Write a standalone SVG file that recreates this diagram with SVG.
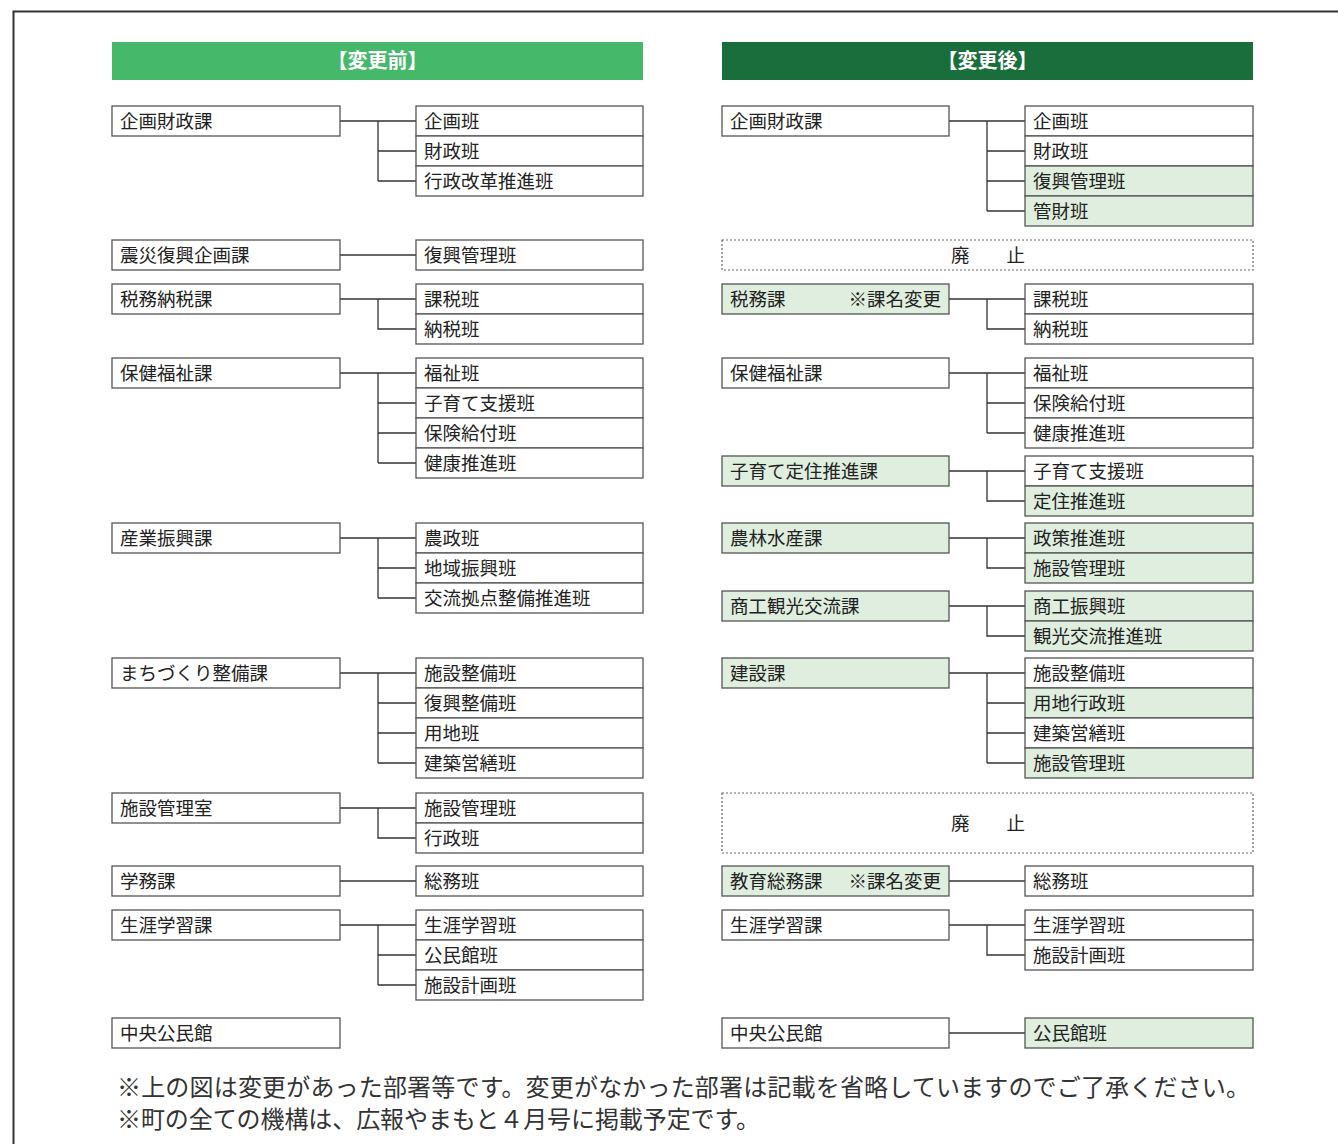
<svg xmlns="http://www.w3.org/2000/svg" width="1338" height="1144" viewBox="0 0 1338 1144">
<style>
text{font-family:"Noto Sans CJK JP","Noto Sans CJK SC",sans-serif;}
.n{font-size:18.5px;fill:#222;}
.hd{font-size:20px;font-weight:bold;fill:#fff;}
.b{fill:#fff;stroke:#555;stroke-width:1.3;}
.g{fill:#DFEEDF;stroke:#555;stroke-width:1.3;}
.d{fill:#fff;stroke:#666;stroke-width:1.2;stroke-dasharray:2 2;}
.c{fill:none;stroke:#333;stroke-width:1.3;}
.ft{font-size:24px;fill:#333;}
</style>
<rect width="1338" height="1144" fill="#fff"/>
<path d="M13.5 1144V11.5H1338" fill="none" stroke="#333" stroke-width="2"/>
<g id="hdr-before"><rect x="112" y="42" width="531" height="38" fill="#45B86A"/><text class="hd" x="377.5" y="68" text-anchor="middle">【変更前】</text></g>
<g id="hdr-after"><rect x="722" y="42" width="531" height="38" fill="#1A6E3C"/><text class="hd" x="987.5" y="68" text-anchor="middle">【変更後】</text></g>

<g id="connectors">
<path class="c" d="M340 121H416M378 121V181M378 151H416M378 181H416"/>
<path class="c" d="M340 255H416"/>
<path class="c" d="M340 299H416M378 299V329H416"/>
<path class="c" d="M340 373H416M378 373V463M378 403H416M378 433H416M378 463H416"/>
<path class="c" d="M340 538H416M378 538V598M378 568H416M378 598H416"/>
<path class="c" d="M340 673H416M378 673V763M378 703H416M378 733H416M378 763H416"/>
<path class="c" d="M340 808H416M378 808V838H416"/>
<path class="c" d="M340 881H416"/>
<path class="c" d="M340 925H416M378 925V985M378 955H416M378 985H416"/>
<path class="c" d="M949 121H1025M987 121V211M987 151H1025M987 181H1025M987 211H1025"/>
<path class="c" d="M949 299H1025M987 299V329H1025"/>
<path class="c" d="M949 373H1025M987 373V433M987 403H1025M987 433H1025"/>
<path class="c" d="M949 471H1025M987 471V501H1025"/>
<path class="c" d="M949 538H1025M987 538V568H1025"/>
<path class="c" d="M949 606H1025M987 606V636H1025"/>
<path class="c" d="M949 673H1025M987 673V763M987 703H1025M987 733H1025M987 763H1025"/>
<path class="c" d="M949 881H1025"/>
<path class="c" d="M949 925H1025M987 925V955H1025"/>
<path class="c" d="M949 1033H1025"/>
</g>

<g id="L-kikaku"><rect class="b" x="112" y="106" width="228" height="30"/><text class="n" x="120" y="128">企画財政課</text></g>
<g id="L-kikaku-c"><rect class="b" x="416" y="106" width="227" height="30"/><text class="n" x="424" y="128">企画班</text>
<rect class="b" x="416" y="136" width="227" height="30"/><text class="n" x="424" y="158">財政班</text>
<rect class="b" x="416" y="166" width="227" height="30"/><text class="n" x="424" y="188">行政改革推進班</text></g>

<g id="L-shinsai"><rect class="b" x="112" y="240" width="228" height="30"/><text class="n" x="120" y="262">震災復興企画課</text></g>
<g id="L-shinsai-c"><rect class="b" x="416" y="240" width="227" height="30"/><text class="n" x="424" y="262">復興管理班</text></g>

<g id="L-zeimu"><rect class="b" x="112" y="284" width="228" height="30"/><text class="n" x="120" y="306">税務納税課</text></g>
<g id="L-zeimu-c"><rect class="b" x="416" y="284" width="227" height="30"/><text class="n" x="424" y="306">課税班</text>
<rect class="b" x="416" y="314" width="227" height="30"/><text class="n" x="424" y="336">納税班</text></g>

<g id="L-hoken"><rect class="b" x="112" y="358" width="228" height="30"/><text class="n" x="120" y="380">保健福祉課</text></g>
<g id="L-hoken-c"><rect class="b" x="416" y="358" width="227" height="30"/><text class="n" x="424" y="380">福祉班</text>
<rect class="b" x="416" y="388" width="227" height="30"/><text class="n" x="424" y="410">子育て支援班</text>
<rect class="b" x="416" y="418" width="227" height="30"/><text class="n" x="424" y="440">保険給付班</text>
<rect class="b" x="416" y="448" width="227" height="30"/><text class="n" x="424" y="470">健康推進班</text></g>

<g id="L-sangyo"><rect class="b" x="112" y="523" width="228" height="30"/><text class="n" x="120" y="545">産業振興課</text></g>
<g id="L-sangyo-c"><rect class="b" x="416" y="523" width="227" height="30"/><text class="n" x="424" y="545">農政班</text>
<rect class="b" x="416" y="553" width="227" height="30"/><text class="n" x="424" y="575">地域振興班</text>
<rect class="b" x="416" y="583" width="227" height="30"/><text class="n" x="424" y="605">交流拠点整備推進班</text></g>

<g id="L-machi"><rect class="b" x="112" y="658" width="228" height="30"/><text class="n" x="120" y="680">まちづくり整備課</text></g>
<g id="L-machi-c"><rect class="b" x="416" y="658" width="227" height="30"/><text class="n" x="424" y="680">施設整備班</text>
<rect class="b" x="416" y="688" width="227" height="30"/><text class="n" x="424" y="710">復興整備班</text>
<rect class="b" x="416" y="718" width="227" height="30"/><text class="n" x="424" y="740">用地班</text>
<rect class="b" x="416" y="748" width="227" height="30"/><text class="n" x="424" y="770">建築営繕班</text></g>

<g id="L-shisetsu"><rect class="b" x="112" y="793" width="228" height="30"/><text class="n" x="120" y="815">施設管理室</text></g>
<g id="L-shisetsu-c"><rect class="b" x="416" y="793" width="227" height="30"/><text class="n" x="424" y="815">施設管理班</text>
<rect class="b" x="416" y="823" width="227" height="30"/><text class="n" x="424" y="845">行政班</text></g>

<g id="L-gakumu"><rect class="b" x="112" y="866" width="228" height="30"/><text class="n" x="120" y="888">学務課</text></g>
<g id="L-gakumu-c"><rect class="b" x="416" y="866" width="227" height="30"/><text class="n" x="424" y="888">総務班</text></g>

<g id="L-shogai"><rect class="b" x="112" y="910" width="228" height="30"/><text class="n" x="120" y="932">生涯学習課</text></g>
<g id="L-shogai-c"><rect class="b" x="416" y="910" width="227" height="30"/><text class="n" x="424" y="932">生涯学習班</text>
<rect class="b" x="416" y="940" width="227" height="30"/><text class="n" x="424" y="962">公民館班</text>
<rect class="b" x="416" y="970" width="227" height="30"/><text class="n" x="424" y="992">施設計画班</text></g>

<g id="L-chuo"><rect class="b" x="112" y="1018" width="228" height="30"/><text class="n" x="120" y="1040">中央公民館</text></g>

<g id="R-kikaku"><rect class="b" x="722" y="106" width="227" height="30"/><text class="n" x="730" y="128">企画財政課</text></g>
<g id="R-kikaku-c"><rect class="b" x="1025" y="106" width="228" height="30"/><text class="n" x="1033" y="128">企画班</text>
<rect class="b" x="1025" y="136" width="228" height="30"/><text class="n" x="1033" y="158">財政班</text>
<rect class="g" x="1025" y="166" width="228" height="30"/><text class="n" x="1033" y="188">復興管理班</text>
<rect class="g" x="1025" y="196" width="228" height="30"/><text class="n" x="1033" y="218">管財班</text></g>

<g id="R-haishi1"><rect class="d" x="722" y="240" width="531" height="30"/><text class="n" x="988" y="262" text-anchor="middle">廃　　止</text></g>

<g id="R-zeimu"><rect class="g" x="722" y="284" width="227" height="30"/><text class="n" x="730" y="306">税務課</text><text class="n" x="941" y="306" text-anchor="end">※課名変更</text></g>
<g id="R-zeimu-c"><rect class="b" x="1025" y="284" width="228" height="30"/><text class="n" x="1033" y="306">課税班</text>
<rect class="b" x="1025" y="314" width="228" height="30"/><text class="n" x="1033" y="336">納税班</text></g>

<g id="R-hoken"><rect class="b" x="722" y="358" width="227" height="30"/><text class="n" x="730" y="380">保健福祉課</text></g>
<g id="R-hoken-c"><rect class="b" x="1025" y="358" width="228" height="30"/><text class="n" x="1033" y="380">福祉班</text>
<rect class="b" x="1025" y="388" width="228" height="30"/><text class="n" x="1033" y="410">保険給付班</text>
<rect class="b" x="1025" y="418" width="228" height="30"/><text class="n" x="1033" y="440">健康推進班</text></g>

<g id="R-kosodate"><rect class="g" x="722" y="456" width="227" height="30"/><text class="n" x="730" y="478">子育て定住推進課</text></g>
<g id="R-kosodate-c"><rect class="b" x="1025" y="456" width="228" height="30"/><text class="n" x="1033" y="478">子育て支援班</text>
<rect class="g" x="1025" y="486" width="228" height="30"/><text class="n" x="1033" y="508">定住推進班</text></g>

<g id="R-norin"><rect class="g" x="722" y="523" width="227" height="30"/><text class="n" x="730" y="545">農林水産課</text></g>
<g id="R-norin-c"><rect class="g" x="1025" y="523" width="228" height="30"/><text class="n" x="1033" y="545">政策推進班</text>
<rect class="g" x="1025" y="553" width="228" height="30"/><text class="n" x="1033" y="575">施設管理班</text></g>

<g id="R-shoko"><rect class="g" x="722" y="591" width="227" height="30"/><text class="n" x="730" y="613">商工観光交流課</text></g>
<g id="R-shoko-c"><rect class="g" x="1025" y="591" width="228" height="30"/><text class="n" x="1033" y="613">商工振興班</text>
<rect class="g" x="1025" y="621" width="228" height="30"/><text class="n" x="1033" y="643">観光交流推進班</text></g>

<g id="R-kensetsu"><rect class="g" x="722" y="658" width="227" height="30"/><text class="n" x="730" y="680">建設課</text></g>
<g id="R-kensetsu-c"><rect class="b" x="1025" y="658" width="228" height="30"/><text class="n" x="1033" y="680">施設整備班</text>
<rect class="g" x="1025" y="688" width="228" height="30"/><text class="n" x="1033" y="710">用地行政班</text>
<rect class="b" x="1025" y="718" width="228" height="30"/><text class="n" x="1033" y="740">建築営繕班</text>
<rect class="g" x="1025" y="748" width="228" height="30"/><text class="n" x="1033" y="770">施設管理班</text></g>

<g id="R-haishi2"><rect class="d" x="722" y="793" width="531" height="60"/><text class="n" x="988" y="830" text-anchor="middle">廃　　止</text></g>

<g id="R-kyoiku"><rect class="g" x="722" y="866" width="227" height="30"/><text class="n" x="730" y="888">教育総務課</text><text class="n" x="941" y="888" text-anchor="end">※課名変更</text></g>
<g id="R-kyoiku-c"><rect class="b" x="1025" y="866" width="228" height="30"/><text class="n" x="1033" y="888">総務班</text></g>

<g id="R-shogai"><rect class="b" x="722" y="910" width="227" height="30"/><text class="n" x="730" y="932">生涯学習課</text></g>
<g id="R-shogai-c"><rect class="b" x="1025" y="910" width="228" height="30"/><text class="n" x="1033" y="932">生涯学習班</text>
<rect class="b" x="1025" y="940" width="228" height="30"/><text class="n" x="1033" y="962">施設計画班</text></g>

<g id="R-chuo"><rect class="b" x="722" y="1018" width="227" height="30"/><text class="n" x="730" y="1040">中央公民館</text></g>
<g id="R-chuo-c"><rect class="g" x="1025" y="1018" width="228" height="30"/><text class="n" x="1033" y="1040">公民館班</text></g>

<g id="footnote">
<text class="ft" x="117" y="1096" textLength="1133" lengthAdjust="spacing">※上の図は変更があった部署等です。変更がなかった部署は記載を省略していますのでご了承ください。</text>
<text class="ft" x="117" y="1128" textLength="643" lengthAdjust="spacing">※町の全ての機構は、広報やまもと４月号に掲載予定です。</text>
</g>
</svg>
